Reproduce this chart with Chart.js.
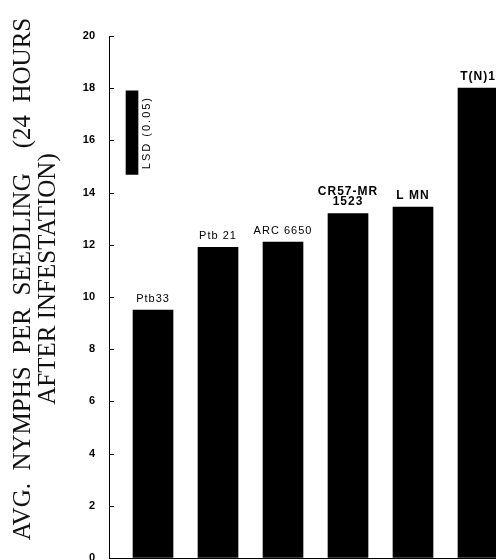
<!DOCTYPE html>
<html><head><meta charset="utf-8">
<script src="https://cdn.jsdelivr.net/npm/chart.js@4.4.1/dist/chart.umd.min.js"></script>
<style>html,body{margin:0;padding:0;background:#fff;overflow:hidden}</style>
</head><body>
<canvas id="c" width="496" height="560"></canvas>
<script>
// ---- data ----
const categories = ['Ptb33', 'Ptb 21', 'ARC 6650', ['CR57-MR', '1523'], 'L MN', 'T(N)1'];
const nymphs = [9.5, 11.9, 12.1, 13.2, 13.45, 18.0];
const lsdRange = [14.7, 17.9];
const lsdLabel = 'LSD (0.05)';
const yTitle = ['AVG.  NYMPHS  PER  SEEDLING    (24  HOURS', 'AFTER INFESTATION)'];

// ---- layout constants ----
const LSD_X = 0.677;

const barLabels = {
  id: 'barLabels',
  afterDatasetsDraw(chart, args, opts) {
    const ctx = chart.ctx;
    const meta = chart.getDatasetMeta(0);
    ctx.save();
    ctx.fillStyle = '#000';
    ctx.textAlign = 'center';
    ctx.textBaseline = 'alphabetic';
    try { ctx.letterSpacing = '1px'; } catch (e) {}
    meta.data.forEach((el, i) => {
      const lab = categories[i];
      const lines = Array.isArray(lab) ? lab : [lab];
      ctx.font = (opts.bold[i] ? 'bold 12px' : '11px') + ' "Liberation Sans"';
      lines.forEach((ln, k) => {
        const y = el.y - opts.gap - (lines.length - 1 - k) * 10;
        ctx.fillText(ln, el.x, y);
      });
    });
    const b = chart.getDatasetMeta(1).data[0];
    ctx.translate(b.x + 15, (b.y + b.base) / 2);
    ctx.rotate(-Math.PI / 2);
    try { ctx.letterSpacing = '2px'; } catch (e) {}
    ctx.font = '11px "Liberation Sans"';
    ctx.textBaseline = 'middle';
    ctx.fillText(lsdLabel, 0, 0);
    ctx.restore();
  }
};

const innerTicks = {
  id: 'innerTicks',
  afterDraw(chart) {
    const ctx = chart.ctx;
    const s = chart.scales.y;
    const left = chart.chartArea.left;
    ctx.save();
    ctx.strokeStyle = '#000';
    ctx.lineWidth = 1;
    s.ticks.forEach((t, i) => {
      const y = Math.round(s.getPixelForTick(i)) + 0.5;
      ctx.beginPath();
      ctx.moveTo(left, y);
      ctx.lineTo(left + 5, y);
      ctx.stroke();
    });
    ctx.restore();
  }
};

new Chart(document.getElementById('c'), {
  type: 'bar',
  data: {
    datasets: [
      {
        data: nymphs.map((v, i) => ({ x: i + 1, y: v })),
        backgroundColor: '#000',
        barThickness: 40,
        grouped: false
      },
      {
        data: [{ x: LSD_X, y: lsdRange }],
        backgroundColor: '#000',
        barThickness: 12,
        grouped: false
      }
    ]
  },
  options: {
    responsive: false,
    animation: false,
    layout: { padding: { top: 0, bottom: 2, left: 0, right: 0 } },
    plugins: {
      legend: { display: false },
      tooltip: { enabled: false },
      title: {
        display: true,
        position: 'left',
        text: yTitle,
        color: '#111',
        font: { family: '"Liberation Serif"', size: 25, weight: 'normal', lineHeight: 1.0 },
        padding: { top: 11, bottom: 0 }
      },
      subtitle: {
        display: true,
        position: 'top',
        text: '',
        font: { size: 1, lineHeight: 1 },
        padding: { top: 35, bottom: 0 }
      },
      barLabels: { gap: 8, bold: [false, false, false, true, true, true] }
    },
    scales: {
      x: {
        type: 'linear',
        offset: false,
        min: 0.323,
        max: 6.277,
        ticks: { display: false },
        grid: { display: false, offset: false, drawTicks: false },
        border: { display: true, color: '#000', width: 1 }
      },
      y: {
        min: 0,
        max: 20,
        ticks: {
          stepSize: 2,
          padding: 14,
          color: '#000',
          font: { family: '"Liberation Sans"', size: 11, weight: 'bold' }
        },
        grid: { drawOnChartArea: false, drawTicks: false },
        border: { display: true, color: '#000', width: 1 },
        afterFit: s => { s.width = 48; s.paddingBottom = 0; s.paddingTop = 0; }
      }
    }
  },
  plugins: [barLabels, innerTicks]
});
</script>
</body></html>
